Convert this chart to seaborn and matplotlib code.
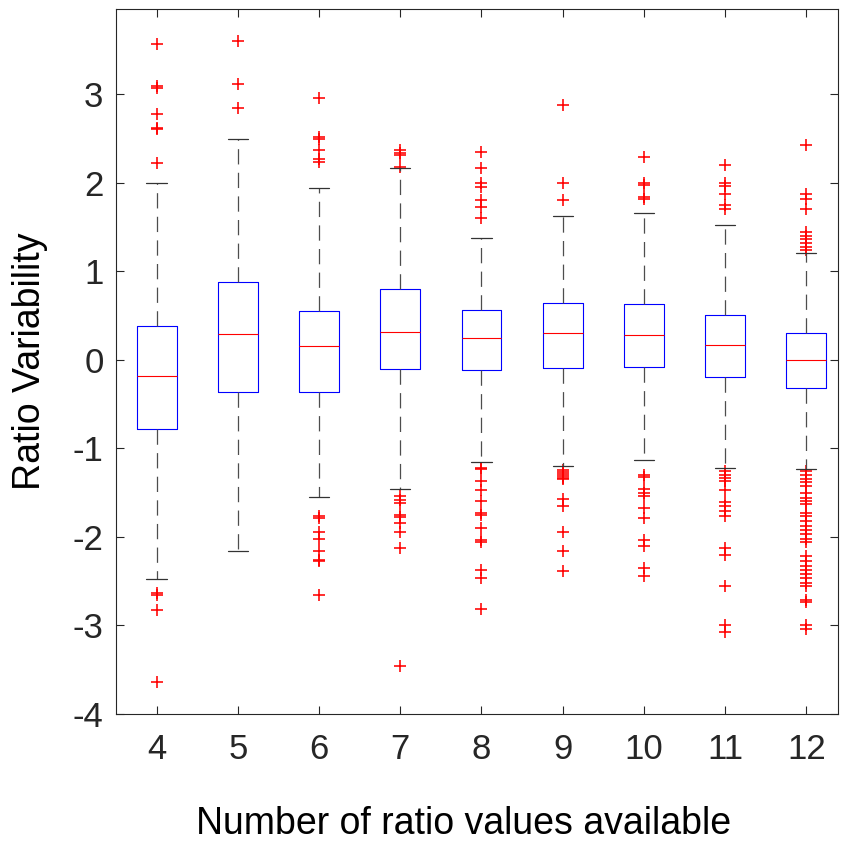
import numpy as np
import pandas as pd
import matplotlib
matplotlib.use("Agg")
import matplotlib.pyplot as plt
import seaborn as sns

groups = ["4", "5", "6", "7", "8", "9", "10", "11", "12"]
q1 = [-0.78, -0.36, -0.36, -0.11, -0.12, -0.09, -0.08, -0.19, -0.32]
medians = [-0.18, 0.29, 0.15, 0.31, 0.24, 0.30, 0.28, 0.17, 0.00]
q3 = [0.38, 0.88, 0.55, 0.80, 0.56, 0.64, 0.63, 0.50, 0.30]
whis_lo = [-2.48, -2.16, -1.55, -1.46, -1.15, -1.20, -1.13, -1.22, -1.23]
whis_hi = [2.00, 2.49, 1.94, 2.16, 1.38, 1.62, 1.66, 1.52, 1.20]

outliers = {
    "4": [3.57, 3.09, 3.07, 2.78, 2.62, 2.60, 2.22, -2.63, -2.66, -2.83, -3.64],
    "5": [3.60, 3.11, 2.84],
    "6": [2.96, 2.51, 2.49, 2.37, 2.27, 2.23, -1.76, -1.79, -1.95, -2.02,
          -2.16, -2.26, -2.27, -2.66],
    "7": [2.37, 2.33, 2.31, 2.18, -1.54, -1.58, -1.62, -1.75, -1.78, -1.84,
          -1.94, -2.13, -3.46],
    "8": [2.35, 2.16, 1.99, 1.95, 1.80, 1.73, 1.60, -1.22, -1.23, -1.37,
          -1.47, -1.60, -1.73, -1.75, -1.90, -2.03, -2.06, -2.37, -2.46, -2.81],
    "9": [2.88, 2.00, 1.80, -1.25, -1.27, -1.29, -1.31, -1.33, -1.35, -1.57,
          -1.65, -1.94, -2.16, -2.38],
    "10": [2.29, 1.99, 1.97, 1.84, 1.81, -1.30, -1.32, -1.46, -1.50, -1.54,
           -1.67, -1.79, -2.03, -2.10, -2.35, -2.44],
    "11": [2.20, 2.00, 1.96, 1.87, 1.75, 1.70, -1.26, -1.30, -1.33, -1.37,
           -1.47, -1.61, -1.65, -1.71, -1.76, -2.13, -2.21, -2.55, -2.99, -3.07],
    "12": [2.43, 1.87, 1.81, 1.70, 1.44, 1.40, 1.36, 1.32, 1.27, 1.24,
           -1.26, -1.30, -1.35, -1.38, -1.43, -1.50, -1.56, -1.60, -1.63,
           -1.73, -1.77, -1.82, -1.88, -1.92, -1.97, -2.02, -2.06, -2.22,
           -2.27, -2.33, -2.37, -2.42, -2.46, -2.52, -2.56, -2.71, -2.74,
           -3.00, -3.04],
}

yticks = [-4, -3, -2, -1, 0, 1, 2, 3]

sns.set_style("ticks")
plt.rcParams["font.family"] = ["Liberation Sans", "DejaVu Sans"]
plt.rcParams["lines.scale_dashes"] = False

fig = plt.figure(figsize=(8.44, 8.44), dpi=100)
ax = fig.add_axes([116 / 844, 1 - 714 / 844, (838 - 116) / 844, (714 - 9) / 844])

stats = []
for i, g in enumerate(groups):
    stats.append(dict(med=medians[i], q1=q1[i], q3=q3[i],
                      whislo=whis_lo[i], whishi=whis_hi[i], fliers=[], label=g))
pos = np.arange(len(groups))
ax.bxp(stats, positions=pos, widths=0.49, showfliers=False,
       boxprops=dict(color="#0000ff", linewidth=0.8),
       medianprops=dict(color="#ff0000", linewidth=0.8),
       whiskerprops=dict(color="#4d4d4d", linewidth=0.9, linestyle=(0, (11, 6))),
       capprops=dict(color="#333333", linewidth=0.9),
       capwidths=0.25, manage_ticks=False)

rows = [(i, v) for i, g in enumerate(groups) for v in outliers[g]]
df = pd.DataFrame(rows, columns=["pos", "value"])
sns.scatterplot(data=df, x="pos", y="value", marker="+", color="#ff0000",
                s=75, linewidth=1.15, ax=ax, legend=False)

ax.set_xlim(-0.5, 8.39)
ax.set_ylim(-4, 3.96)
ax.set_xticks(pos)
ax.set_xticklabels(groups)
ax.set_yticks(yticks)
ax.set_yticklabels([str(t) for t in yticks])

for s in ax.spines.values():
    s.set_visible(True)
    s.set_color("#262626")
    s.set_linewidth(0.8)
ax.tick_params(direction="in", length=6, width=0.8, color="#262626",
               top=True, right=True, labelsize=25, labelcolor="#262626")
ax.tick_params(axis="x", pad=14)
ax.tick_params(axis="y", pad=9)
ax.set_xlabel("Number of ratio values available", fontsize=27, color="black")
ax.set_ylabel("Ratio Variability", fontsize=27, color="black")
ax.xaxis.set_label_coords(0.482, -0.170, transform=ax.transAxes)
ax.xaxis.label.set_va("baseline")
ax.yaxis.set_label_coords(-0.094, 0.5, transform=ax.transAxes)

fig.savefig("out.png", dpi=100)
